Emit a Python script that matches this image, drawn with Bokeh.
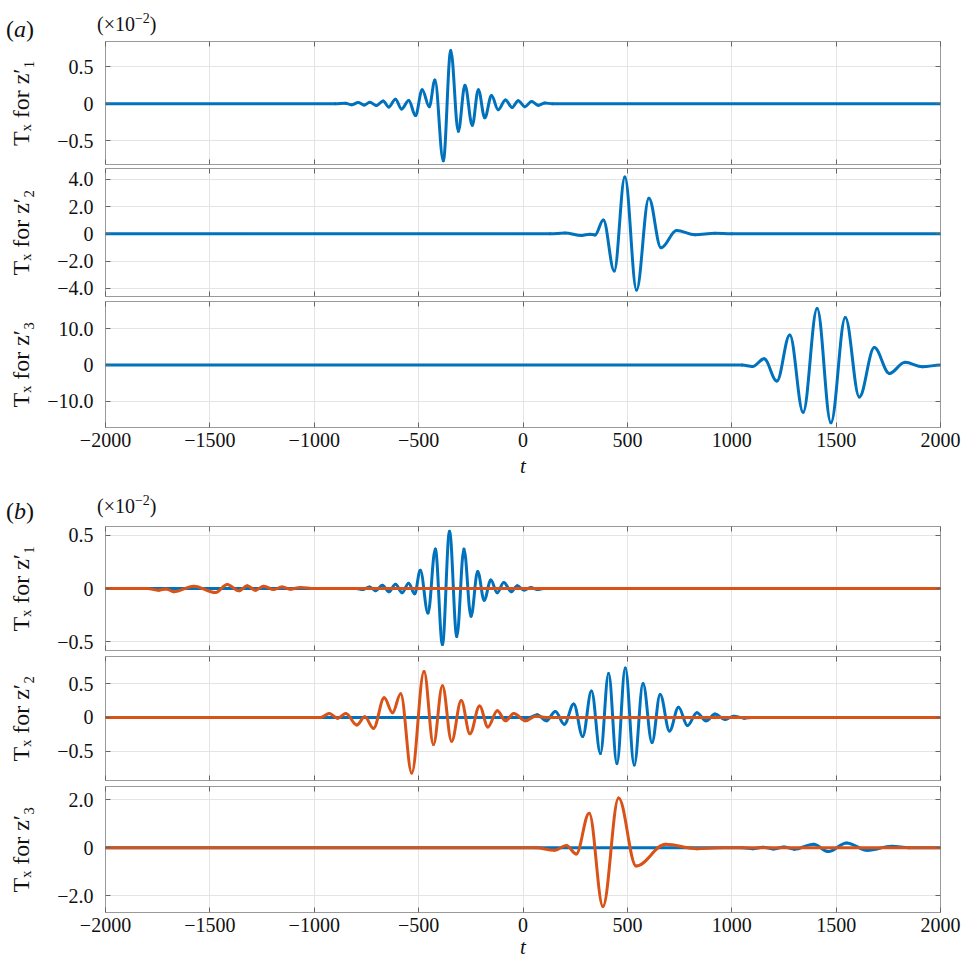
from bokeh.plotting import figure
from bokeh.layouts import column
from bokeh.models import (ColumnDataSource, Range1d, FixedTicker, LinearAxis,
                          CustomJSTickFormatter, Div)
from bokeh.embed import file_html
from bokeh.resources import INLINE

BLUE = "#0072BD"
ORANGE = "#D95319"
FONT = "Liberation Serif"

x_ticks = [-2000, -1500, -1000, -500, 0, 500, 1000, 1500, 2000]

# ---- panel (a) z'1  (values x 1e-2), extrema ----
t_a1 = [-2000, -900, -850, -821, -789, -760, -734, -702, -670, -643,
        -611, -582, -547, -515, -483, -449, -422, -382, -346, -310,
        -278, -243, -214, -183, -151, -119, -84, -52, -23, 9,
        41, 73, 105, 140, 2000]
v_a1 = [0, 0, 0.008, -0.015, 0.018, -0.018, 0.02, -0.025, 0.036, -0.044,
        0.062, -0.07, 0.045, -0.16, 0.19, -0.04, 0.32, -0.77, 0.72, -0.37,
        0.25, -0.29, 0.19, -0.19, 0.11, -0.08, 0.05, -0.05, 0.04, -0.04,
        0.03, -0.02, 0.01, 0, 0]

# ---- panel (a) z'2 ----
t_a2 = [-2000, 130, 201, 281, 320, 345, 385, 437, 488, 544, 603, 661, 736, 824, 920, 1000, 2000]
v_a2 = [0, 0, 0.07, -0.12, -0.02, -0.08, 1.02, -2.72, 4.17, -4.12, 2.62, -1.02, 0.24, -0.07, 0.05, 0, 0]

# ---- panel (a) z'3 ----
t_a3 = [-2000, 1050, 1099, 1155, 1216, 1278, 1342, 1409, 1475, 1544, 1611, 1683, 1755, 1830, 1914, 2000]
v_a3 = [0, 0, -0.4, 1.7, -4.4, 8.3, -13.0, 15.6, -15.9, 13.1, -8.8, 4.8, -2.3, 0.74, -0.46, 0]

# ---- panel (b) z'1 ----
t_b1_blue = [-2000, -800, -768, -736, -706, -674, -642, -611, -579, -548,
             -519, -492, -455, -420, -386, -352, -317, -283, -249, -217,
             -186, -154, -124, -92, -56, -27, 5, 37, 69, 100, 2000]
v_b1_blue = [0, 0, -0.01, 0.015, -0.02, 0.03, -0.03, 0.04, -0.04, 0.05,
             -0.05, 0.17, -0.23, 0.37, -0.525, 0.535, -0.45, 0.37, -0.26, 0.16,
             -0.11, 0.08, -0.04, 0.057, -0.03, 0.025, -0.015, 0.01, -0.01, 0, 0]
t_b1_orange = [-2000, -1800, -1745, -1710, -1673, -1577, -1473, -1417, -1361, -1321,
               -1281, -1242, -1194, -1154, -1114, -1066, -1000, 2000]
v_b1_orange = [0, 0, -0.016, -0.004, -0.03, 0.022, -0.038, 0.038, -0.022, 0.025,
               -0.016, 0.022, -0.01, 0.015, -0.006, 0.01, 0, 0]

# ---- panel (b) z'2 ----
t_b2_blue = [-2000, 30, 68, 112, 155, 198, 243, 286, 328, 371,
             410, 450, 490, 533, 575, 618, 657, 702, 745, 788,
             833, 877, 920, 968, 1010, 1060, 1100, 2000]
v_b2_blue = [0, 0, 0.04, -0.05, 0.09, -0.10, 0.20, -0.28, 0.39, -0.53,
             0.65, -0.68, 0.73, -0.70, 0.50, -0.37, 0.34, -0.20, 0.15, -0.12,
             0.07, -0.05, 0.05, -0.03, 0.02, -0.01, 0, 0]
t_b2_orange = [-2000, -970, -928, -888, -849, -796, -758, -716, -665, -625,
               -586, -533, -474, -429, -386, -342, -296, -254, -208, -168,
               -123, -84, -44, 12, 60, 110, 2000]
v_b2_orange = [0, 0, 0.06, -0.01, 0.06, -0.11, 0.01, -0.16, 0.29, 0.07,
               0.35, -0.82, 0.68, -0.40, 0.47, -0.35, 0.25, -0.24, 0.17, -0.14,
               0.10, -0.05, 0.06, -0.05, 0.02, 0, 0]

# ---- panel (b) z'3 ----
t_b3_blue = [-2000, 1050, 1100, 1150, 1200, 1250, 1300, 1392, 1463, 1550, 1650, 1767, 1850, 2000]
v_b3_blue = [0, 0, -0.04, 0.02, -0.05, 0.03, -0.06, 0.14, -0.16, 0.2, -0.11, 0.06, 0, 0]
t_b3_orange = [-2000, 60, 150, 208, 255, 317, 383, 458, 542, 683, 833, 950, 2000]
v_b3_orange = [0, 0, -0.11, 0.09, -0.26, 1.44, -2.45, 2.07, -0.76, 0.14, -0.04, 0, 0]

y_ticks_a1 = [-0.5, 0, 0.5]
y_ticks_a2 = [-4, -2, 0, 2, 4]
y_ticks_a3 = [-10, 0, 10]
y_ticks_b1 = [-0.5, 0, 0.5]
y_ticks_b2 = [-0.5, 0, 0.5]
y_ticks_b3 = [-2, 0, 2]

y_labels = ["T\u2093 for z\u2032\u2081", "T\u2093 for z\u2032\u2082", "T\u2093 for z\u2032\u2083"]
x_label = "t"
tags = ["(a)", "(b)"]
scale_note = "(\u00d710<sup style='font-size:14px'>\u22122</sup>)"

y_fmt = CustomJSTickFormatter(code="""
    if (tick == 0) return "0";
    return (tick < 0 ? "\\u2212" : "") + Math.abs(tick).toFixed(1);
""")
x_fmt = CustomJSTickFormatter(code="""
    return (tick < 0 ? "\\u2212" : "") + Math.abs(tick).toFixed(0);
""")
blank_fmt = CustomJSTickFormatter(code="return '';")


def add_wave(p, t, v, color):
    # smooth half-cycle curves between successive read extrema (horizontal tangents)
    k = 0.36
    x0 = t[:-1]; x1 = t[1:]; y0 = v[:-1]; y1 = v[1:]
    cx0 = [a + k * (b - a) for a, b in zip(x0, x1)]
    cx1 = [b - k * (b - a) for a, b in zip(x0, x1)]
    src = ColumnDataSource(dict(x0=x0, y0=y0, x1=x1, y1=y1,
                                cx0=cx0, cy0=y0, cx1=cx1, cy1=y1))
    p.bezier(x0="x0", y0="y0", x1="x1", y1="y1", cx0="cx0", cy0="cy0",
             cx1="cx1", cy1="cy1", source=src, line_color=color,
             line_width=3, line_cap="round")


def hidden_axis(ax, ticker):
    ax.ticker = ticker
    ax.formatter = blank_fmt
    ax.major_tick_in = 5
    ax.major_tick_out = 0
    ax.minor_tick_line_color = None
    ax.axis_line_color = None
    ax.major_tick_line_color = "#666666"
    ax.major_label_text_font_size = "1px"
    ax.major_label_text_color = None
    ax.major_label_standoff = 0


def make_panel(yr, yt, top, fh, bottom, show_x, ylabel, lab_standoff, t_standoff=4):
    p = figure(frame_width=835, frame_height=fh,
               x_range=Range1d(-2000, 2000), y_range=Range1d(*yr),
               output_backend="svg", toolbar_location=None,
               min_border_left=105, min_border_right=23,
               min_border_top=top, min_border_bottom=bottom)
    p.outline_line_color = "#9a9a9a"
    p.background_fill_color = "white"
    p.border_fill_color = "white"
    xt = FixedTicker(ticks=x_ticks)
    ytk = FixedTicker(ticks=yt)
    p.xaxis.ticker = xt
    p.yaxis.ticker = ytk
    p.xgrid.ticker = xt
    p.ygrid.ticker = ytk
    for g in (p.xgrid, p.ygrid):
        g.grid_line_color = "#e4e4e4"
        g.grid_line_width = 1
    ax = p.yaxis[0]
    ax.formatter = y_fmt
    ax.major_tick_in = 5
    ax.major_tick_out = 0
    ax.minor_tick_line_color = None
    ax.axis_line_color = None
    ax.major_tick_line_color = "#666666"
    ax.major_label_standoff = 12
    ax.major_label_text_font = FONT
    ax.major_label_text_font_size = "20px"
    ax.major_label_text_color = "#111111"
    ax.axis_label = ylabel
    ax.axis_label_standoff = lab_standoff
    ax.axis_label_text_font = FONT
    ax.axis_label_text_font_style = "normal"
    ax.axis_label_text_font_size = "24px"
    ax.axis_label_text_color = "#111111"
    bx = p.xaxis[0]
    if show_x:
        bx.formatter = x_fmt
        bx.major_tick_in = 5
        bx.major_tick_out = 0
        bx.minor_tick_line_color = None
        bx.axis_line_color = None
        bx.major_tick_line_color = "#666666"
        bx.major_label_standoff = 5
        bx.major_label_text_font = FONT
        bx.major_label_text_font_size = "20px"
        bx.major_label_text_color = "#111111"
        bx.axis_label = x_label
        bx.axis_label_standoff = t_standoff
        bx.axis_label_text_font = FONT
        bx.axis_label_text_font_style = "italic"
        bx.axis_label_text_font_size = "21px"
        bx.axis_label_text_color = "#111111"
    else:
        hidden_axis(bx, xt)
    ta = LinearAxis()
    ra = LinearAxis()
    hidden_axis(ta, xt)
    hidden_axis(ra, ytk)
    p.add_layout(ta, "above")
    p.add_layout(ra, "right")
    return p


def header(tag, h):
    html = (
        "<div style=\"position:relative;width:963px;height:%dpx;"
        "font-family:'Liberation Serif',serif;color:#111;\">"
        "<span style=\"position:absolute;left:6px;top:%dpx;font-size:24px;line-height:24px;\">"
        "(<i>%s</i>)</span>"
        "<span style=\"position:absolute;left:97px;top:%dpx;font-size:20px;line-height:20px;\">%s</span>"
        "</div>" % (h, h - 24, tag[1], h - 32, scale_note)
    )
    return Div(text=html, width=963, height=h, margin=0)


pa1 = make_panel((-0.82, 0.84), y_ticks_a1, 0, 123, 2, False, y_labels[0], 20)
pa2 = make_panel((-4.6, 4.8), y_ticks_a2, 2, 128, 4, False, y_labels[1], 20)
pa3 = make_panel((-17.2, 17.5), y_ticks_a3, 1, 126, 50, True, y_labels[2], 10)
pb1 = make_panel((-0.58, 0.58), y_ticks_b1, 3, 124, 3, False, y_labels[0], 20)
pb2 = make_panel((-0.93, 0.9), y_ticks_b2, 3, 124, 3, False, y_labels[1], 20)
pb3 = make_panel((-2.7, 2.55), y_ticks_b3, 3, 126, 44, True, y_labels[2], 20, t_standoff=0)

add_wave(pa1, t_a1, v_a1, BLUE)
add_wave(pa2, t_a2, v_a2, BLUE)
add_wave(pa3, t_a3, v_a3, BLUE)
add_wave(pb1, t_b1_blue, v_b1_blue, BLUE)
add_wave(pb1, t_b1_orange, v_b1_orange, ORANGE)
add_wave(pb2, t_b2_blue, v_b2_blue, BLUE)
add_wave(pb2, t_b2_orange, v_b2_orange, ORANGE)
add_wave(pb3, t_b3_blue, v_b3_blue, BLUE)
add_wave(pb3, t_b3_orange, v_b3_orange, ORANGE)

layout = column(header(tags[0], 41), pa1, pa2, pa3,
                header(tags[1], 43), pb1, pb2, pb3, spacing=0)
open("out.html", "w").write(file_html(layout, INLINE))
